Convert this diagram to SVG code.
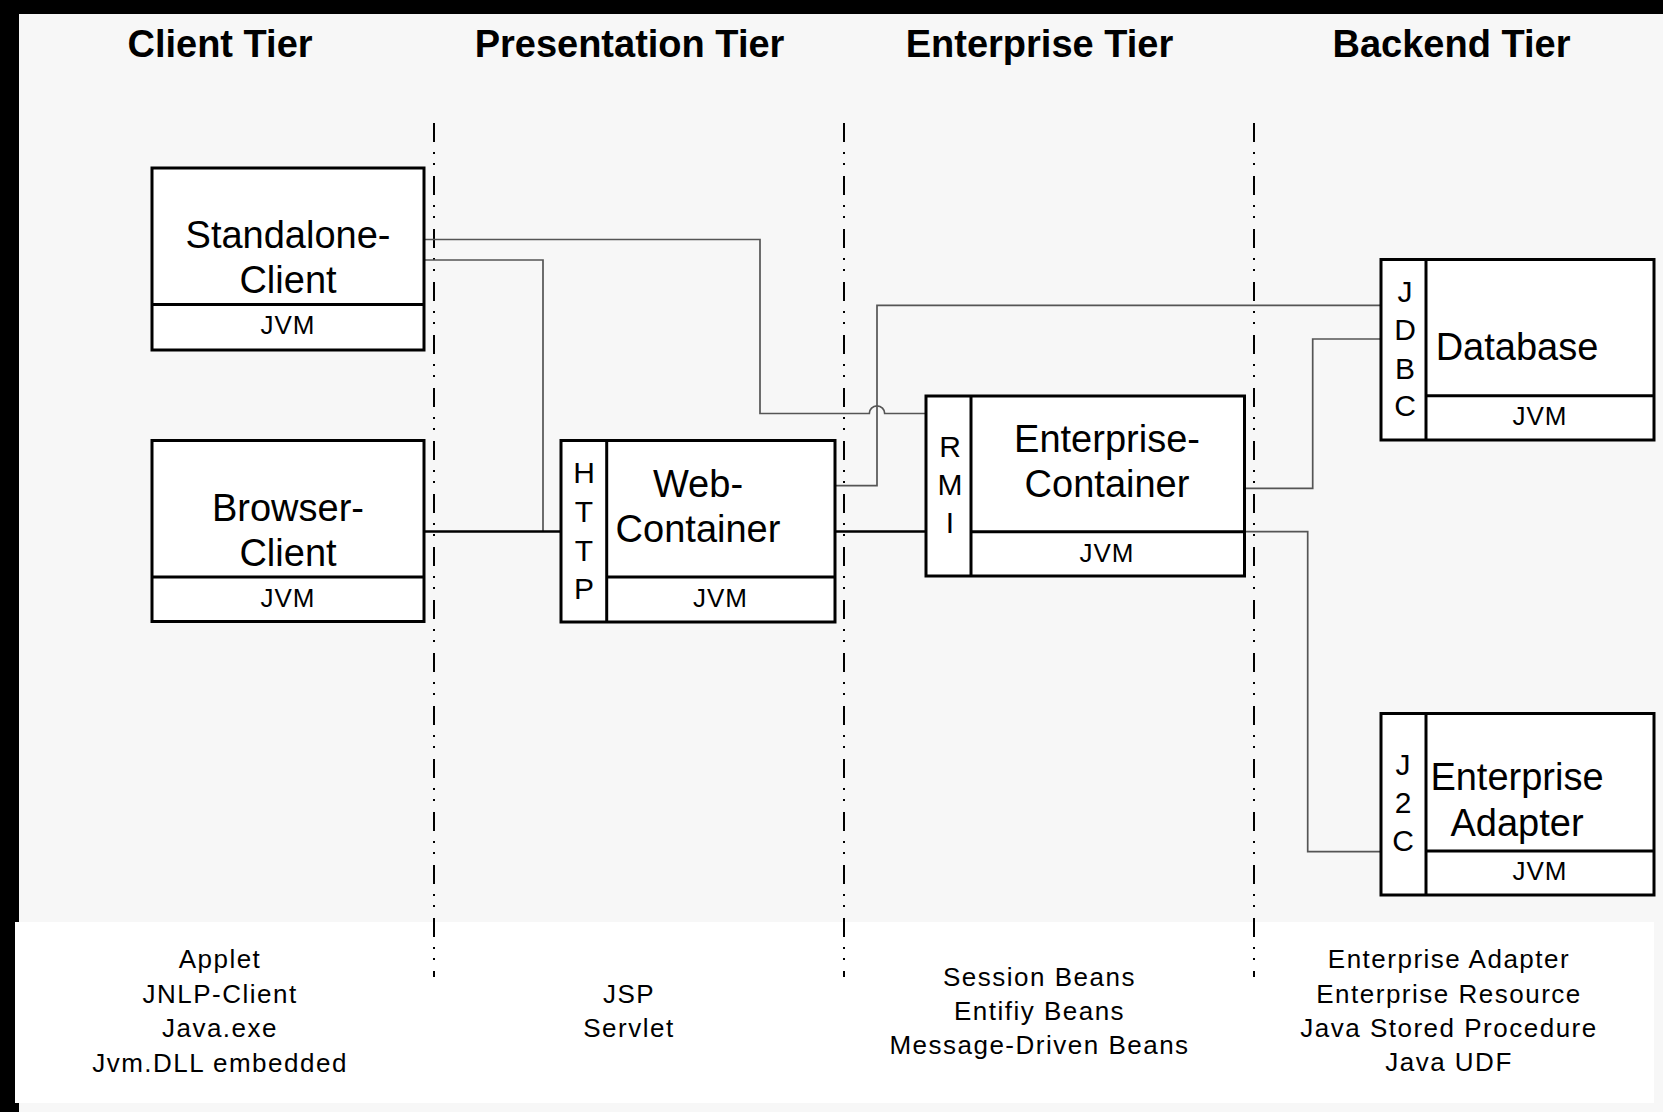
<svg xmlns="http://www.w3.org/2000/svg" width="1663" height="1112" viewBox="0 0 1663 1112">
<style>
.hdr{font-family:"Liberation Sans",Arial,sans-serif;font-weight:bold;font-size:38px;fill:#000;text-anchor:middle}
.lbl{font-family:"Liberation Sans",Arial,sans-serif;font-size:38px;fill:#000;text-anchor:middle}
.col{font-family:"Liberation Sans",Arial,sans-serif;font-size:30px;fill:#000;text-anchor:middle}
.jvm{font-family:"Liberation Sans",Arial,sans-serif;font-size:26px;letter-spacing:1px;fill:#000;text-anchor:middle}
.lst{font-family:"Liberation Sans",Arial,sans-serif;font-size:26px;letter-spacing:1.5px;fill:#000;text-anchor:middle}
.box{fill:#fff;stroke:#000;stroke-width:3}
.div{stroke:#000;stroke-width:3;fill:none}
.thin{fill:none;stroke:#555;stroke-width:1.7}
.thick{fill:none;stroke:#000;stroke-width:2.6}
.tier{stroke:#000;stroke-width:2;stroke-dasharray:19 10 2 9 2 11;fill:none}
</style>
<rect x="0" y="0" width="1663" height="1112" fill="#000"/>
<rect x="19" y="14" width="1644" height="1098" fill="#f7f7f7"/>
<rect x="15" y="922" width="1639" height="181" fill="#fff"/>

<g id="headers">
<text class="hdr" x="220" y="57">Client Tier</text>
<text class="hdr" x="629.5" y="57">Presentation Tier</text>
<text class="hdr" x="1039.5" y="57">Enterprise Tier</text>
<text class="hdr" x="1451.5" y="57">Backend Tier</text>
</g>

<g id="tier-separators">
<line class="tier" x1="434" y1="123" x2="434" y2="977"/>
<line class="tier" x1="844" y1="123" x2="844" y2="977"/>
<line class="tier" x1="1254" y1="123" x2="1254" y2="977"/>
</g>

<g id="connectors">
<path class="thin" d="M424,239.5 H760 V413.5 H869.3 A7.7,7.7 0 0 1 884.7,413.5 H926"/>
<path class="thin" d="M424,260 H543 V531.5"/>
<path class="thick" d="M424,531.5 H561"/>
<path class="thick" d="M835,531.5 H926"/>
<path class="thin" d="M835,485.7 H877 V305.3 H1381"/>
<path class="thin" d="M1244,488.3 H1312.7 V339 H1381"/>
<path class="thin" d="M1244,531.7 H1307.7 V851.7 H1381"/>
</g>

<g id="standalone-client">
<rect class="box" x="152" y="168" width="272" height="182"/>
<line class="div" x1="152" y1="304.5" x2="424" y2="304.5"/>
<text class="lbl" x="288" y="248">Standalone-</text>
<text class="lbl" x="288" y="293">Client</text>
<text class="jvm" x="288" y="334">JVM</text>
</g>

<g id="browser-client">
<rect class="box" x="152" y="440.5" width="272" height="181"/>
<line class="div" x1="152" y1="577" x2="424" y2="577"/>
<text class="lbl" x="288" y="521">Browser-</text>
<text class="lbl" x="288" y="566">Client</text>
<text class="jvm" x="288" y="607">JVM</text>
</g>

<g id="web-container">
<rect class="box" x="561" y="440.5" width="274" height="181.5"/>
<line class="div" x1="606.7" y1="440.5" x2="606.7" y2="622"/>
<line class="div" x1="606.7" y1="577" x2="835" y2="577"/>
<text class="col" x="584" y="483">H</text>
<text class="col" x="584" y="522">T</text>
<text class="col" x="584" y="561">T</text>
<text class="col" x="584" y="599">P</text>
<text class="lbl" x="698" y="497">Web-</text>
<text class="lbl" x="698" y="542">Container</text>
<text class="jvm" x="720.5" y="607">JVM</text>
</g>

<g id="enterprise-container">
<rect class="box" x="926" y="396" width="318.5" height="180"/>
<line class="div" x1="971" y1="396" x2="971" y2="576"/>
<line class="div" x1="971" y1="531.7" x2="1244.5" y2="531.7"/>
<text class="col" x="950" y="457">R</text>
<text class="col" x="950" y="495">M</text>
<text class="col" x="950" y="533">I</text>
<text class="lbl" x="1107" y="452">Enterprise-</text>
<text class="lbl" x="1107" y="497">Container</text>
<text class="jvm" x="1107" y="561.5">JVM</text>
</g>

<g id="database">
<rect class="box" x="1381" y="259.5" width="273" height="180.5"/>
<line class="div" x1="1426" y1="259.5" x2="1426" y2="440"/>
<line class="div" x1="1426" y1="395.7" x2="1654" y2="395.7"/>
<text class="col" x="1405" y="301.5">J</text>
<text class="col" x="1405" y="340">D</text>
<text class="col" x="1405" y="378.5">B</text>
<text class="col" x="1405" y="416">C</text>
<text class="lbl" x="1517" y="360">Database</text>
<text class="jvm" x="1540" y="425">JVM</text>
</g>

<g id="enterprise-adapter">
<rect class="box" x="1381" y="713.5" width="273" height="181.5"/>
<line class="div" x1="1426" y1="713.5" x2="1426" y2="895"/>
<line class="div" x1="1426" y1="851" x2="1654" y2="851"/>
<text class="col" x="1403" y="775">J</text>
<text class="col" x="1403" y="813">2</text>
<text class="col" x="1403" y="851">C</text>
<text class="lbl" x="1517" y="790">Enterprise</text>
<text class="lbl" x="1517" y="836">Adapter</text>
<text class="jvm" x="1540" y="879.5">JVM</text>
</g>

<g id="tier-contents">
<text class="lst" x="220" y="968">Applet</text>
<text class="lst" x="220" y="1003">JNLP-Client</text>
<text class="lst" x="220" y="1037">Java.exe</text>
<text class="lst" x="220" y="1071.5">Jvm.DLL embedded</text>
<text class="lst" x="629" y="1002.5">JSP</text>
<text class="lst" x="629" y="1036.7">Servlet</text>
<text class="lst" x="1039.5" y="986">Session Beans</text>
<text class="lst" x="1039.5" y="1020">Entifiy Beans</text>
<text class="lst" x="1039.5" y="1054">Message-Driven Beans</text>
<text class="lst" x="1449" y="968">Enterprise Adapter</text>
<text class="lst" x="1449" y="1002.5">Enterprise Resource</text>
<text class="lst" x="1449" y="1036.7">Java Stored Procedure</text>
<text class="lst" x="1449" y="1071">Java UDF</text>
</g>
</svg>
